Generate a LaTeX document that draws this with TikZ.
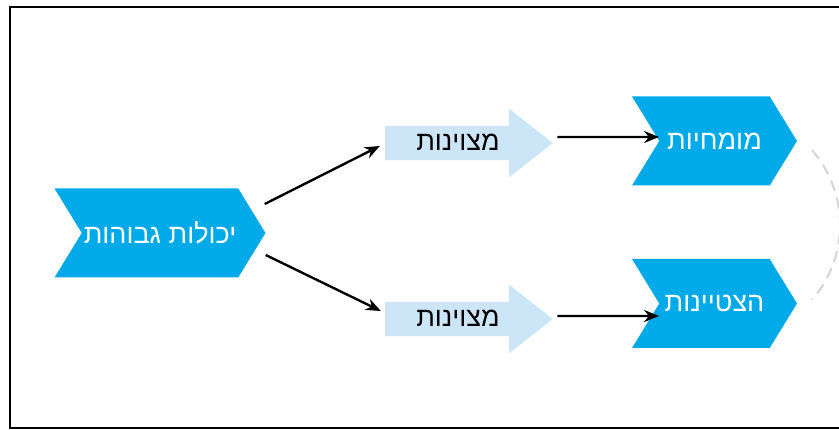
\documentclass[tikz,border=0pt]{standalone}
\usepackage{fontspec}
\newfontfamily\hebfont[Script=Hebrew]{Liberation Sans}
\TeXXeTstate=1
\usepackage{tikz}
\usetikzlibrary{shapes.symbols,shapes.arrows,arrows.meta}
\definecolor{stageblue}{RGB}{0,170,233}
\definecolor{pathblue}{RGB}{204,230,247}
\definecolor{loopgray}{RGB}{212,212,212}
\tikzstyle{stage} = [signal, signal from=west, signal to=east, signal pointer angle=117, fill=stageblue, text=white, minimum height=89pt, inner sep=0pt, font=\hebfont\fontsize{27}{32}\selectfont]
\tikzstyle{pathway} = [single arrow, single arrow head extend=17pt, single arrow tip angle=76, fill=pathblue, minimum height=168pt, inner sep=0pt, text height=25pt, text depth=9pt, font=\hebfont\fontsize{27}{32}\selectfont]
\tikzstyle{connector} = [line width=2.4pt, -{Stealth[length=15pt,width=12pt]}]
\tikzstyle{loop arc} = [line width=2pt, loopgray, dash pattern=on 11pt off 7pt]

\begin{document}
\begin{tikzpicture}[x=1pt, y=-1pt]
        \useasboundingbox (0,0) rectangle (839,430);
        \clip (0,0) rectangle (839,430);
        \draw [line width=2pt] (10,7) rectangle (860,428);
        \node (ability) [stage, minimum width=211pt] at (160,233) {\beginR יכולות גבוהות\endR};
        \node (excel-up) [pathway] at (458,143) {\beginR מצוינות\endR};
        \node (excel-down) [pathway] at (458,319) {\beginR מצוינות\endR};
        \node (expert) [stage, minimum width=165pt] at (714.5,141) {\beginR מומחיות\endR};
        \node (gifted) [stage, minimum width=165pt] at (714.5,303.5) {\beginR הצטיינות\endR};
        \coordinate (loop) at (726,225);
        \draw [connector] ([xshift=-1pt, yshift=29pt]ability.east) -- ([xshift=-5pt, yshift=-3pt]excel-up.west);
        \draw [connector] ([yshift=-22pt]ability.east) -- ([xshift=-4pt, yshift=8pt]excel-down.west);
        \draw [connector] ([xshift=4pt, yshift=6pt]excel-up.east) -- ([yshift=4pt]expert.west);
        \draw [connector] ([xshift=4pt, yshift=3pt]excel-down.east) -- ([yshift=-12.5pt]gifted.west);
        \draw [loop arc] (loop) ++(-41:114) arc [start angle=-41, end angle=41, radius=114];
    \end{tikzpicture}
\end{document}
